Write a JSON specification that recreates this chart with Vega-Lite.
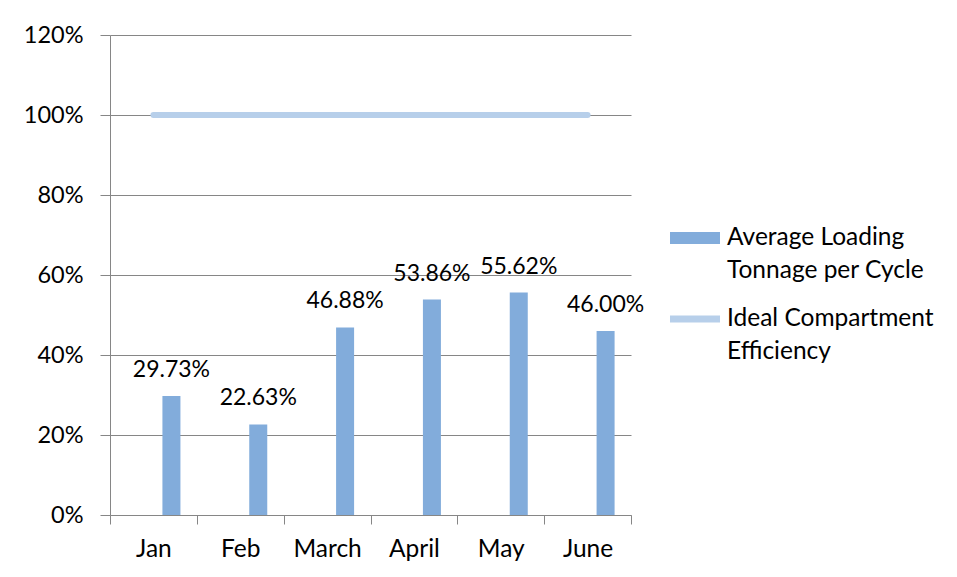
{
  "$schema": "https://vega.github.io/schema/vega-lite/v6.json",
  "autosize": {"type": "none"},
  "width": 521,
  "height": 480,
  "padding": {"left": 110, "top": 35, "right": 326, "bottom": 62},
  "background": "white",
  "config": {
    "font": "Lato",
    "view": {"stroke": null},
    "axis": {"labelFont": "Lato", "labelColor": "#000000", "domainColor": "#868686", "tickColor": "#868686", "gridColor": "#868686", "title": null}
  },
  "data": {
    "values": [
      {"month": "Jan", "avg": 0.2973, "ideal": 1.0},
      {"month": "Feb", "avg": 0.2263, "ideal": 1.0},
      {"month": "March", "avg": 0.4688, "ideal": 1.0},
      {"month": "April", "avg": 0.5386, "ideal": 1.0},
      {"month": "May", "avg": 0.5562, "ideal": 1.0},
      {"month": "June", "avg": 0.46, "ideal": 1.0}
    ]
  },
  "encoding": {
    "x": {
      "field": "month", "type": "nominal", "sort": null,
      "scale": {"paddingInner": 0, "paddingOuter": 0},
      "axis": {"labelAngle": 0, "labelFontSize": 24.5, "tickBand": "extent", "tickSize": 9, "labelPadding": 13, "grid": false, "domainWidth": 1}
    }
  },
  "layer": [
    {
      "mark": {"type": "bar", "color": "#82ACDB"},
      "encoding": {
        "xOffset": {"datum": "c", "scale": {"domain": ["a", "b", "c"], "paddingInner": 0, "paddingOuter": 0.911}},
        "y": {
          "field": "avg", "type": "quantitative",
          "scale": {"domain": [0, 1.2], "nice": false},
          "axis": {"values": [0, 0.2, 0.4, 0.6, 0.8, 1.0, 1.2], "format": ".0%", "labelFontSize": 23.5, "tickSize": 10, "labelPadding": 17, "grid": true, "gridWidth": 1}
        },
        "color": {
          "datum": "Average Loading Tonnage per Cycle",
          "scale": {"domain": ["Average Loading Tonnage per Cycle", "Ideal Compartment Efficiency"], "range": ["#82ACDB", "#B7CFEA"]},
          "legend": {
            "title": null,
            "orient": "none",
            "legendX": 560,
            "legendY": 178,
            "labelFont": "Lato",
            "labelFontSize": 24.5,
            "labelColor": "#000000",
            "labelLimit": 400,
            "labelOffset": 7,
            "rowPadding": 11,
            "symbolSize": 2500,
            "labelExpr": "datum.label == 'Average Loading Tonnage per Cycle' ? ['Average Loading', 'Tonnage per Cycle'] : ['Ideal Compartment', 'Efficiency']",
            "encode": {
              "symbols": {"update": {
                "shape": {"signal": "datum.index == 0 ? 'M-1,-0.24H1V0.24H-1Z' : 'M-1,-0.14H1V0.14H-1Z'"},
                "fill": {"scale": "color", "field": "value"},
                "stroke": {"value": "transparent"},
                "strokeWidth": {"value": 0}
              }},
              "labels": {"update": {"dy": {"value": 0}, "lineHeight": {"value": 33}}}
            }
          }
        }
      }
    },
    {
      "mark": {"type": "text", "baseline": "alphabetic", "dy": -19, "fontSize": 23, "font": "Lato", "color": "#000000"},
      "encoding": {
        "xOffset": {"datum": "c"},
        "y": {"field": "avg", "type": "quantitative"},
        "text": {"field": "avg", "type": "quantitative", "format": ".2%"}
      }
    },
    {
      "mark": {"type": "line", "strokeWidth": 6, "strokeCap": "round"},
      "encoding": {
        "y": {"field": "ideal", "type": "quantitative"},
        "color": {"datum": "Ideal Compartment Efficiency"}
      }
    }
  ]
}
